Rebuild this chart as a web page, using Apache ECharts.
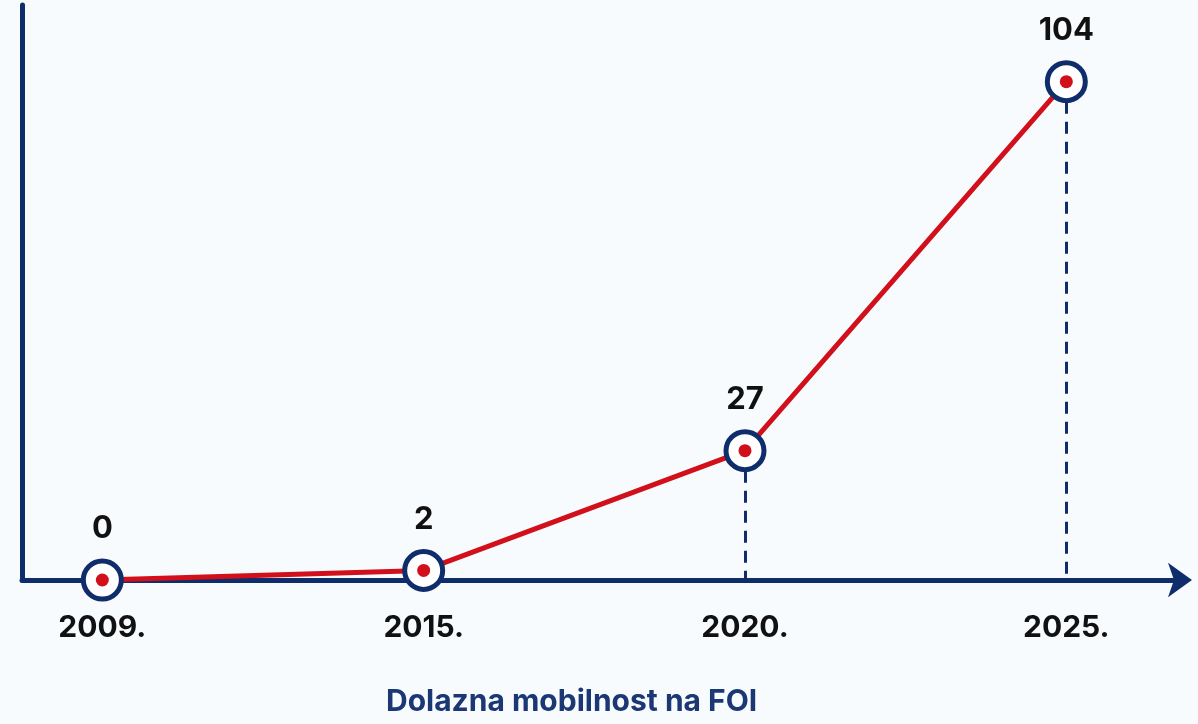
<!DOCTYPE html>
<html lang="hr">
<head>
    <meta charset="UTF-8">
    <title>Dolazna mobilnost na FOI</title>
    <script src="https://cdn.jsdelivr.net/npm/echarts@6/dist/echarts.min.js"></script>
    <style>
        html, body { margin: 0; padding: 0; background: #f7fbfd; }
        #main { width: 1198px; height: 724px; }
    </style>
</head>
<body>
<div id="main"></div>
<script>
    // podaci
    var years = ['2009.', '2015.', '2020.', '2025.'];
    var mobilnost = [0, 2, 27, 104];

    var navy = '#0f2d6b';
    var red = '#d1101c';

    var myChart = echarts.init(document.getElementById('main'));

    // tocke [indeks godine, vrijednost]
    var points = [];
    for (var i = 0; i < years.length; i++) {
        points.push([i, mobilnost[i]]);
    }

    // isprekidane linije od tocke do osi
    var dropLines = [];
    for (var j = 0; j < points.length; j++) {
        if (mobilnost[j] > 0) {
            dropLines.push([{ coord: [j, mobilnost[j]] }, { coord: [j, 0] }]);
        }
    }

    var option = {
        backgroundColor: '#f7fbfd',
        title: {
            text: 'Dolazna mobilnost na FOI',
            left: 381,
            top: 682,
            textStyle: {
                color: '#1b3774',
                fontFamily: 'Inter',
                fontWeight: 'bold',
                fontSize: 30
            }
        },
        grid: {
            left: 22,
            right: 16,
            top: 5,
            bottom: 144
        },
        xAxis: {
            type: 'value',
            min: -0.25,
            max: 3.36,
            splitLine: { show: false },
            axisLine: {
                onZero: false,
                symbol: ['none', 'arrow'],
                symbolSize: [26, 24],
                symbolOffset: [0, 10],
                lineStyle: { color: navy, width: 5 }
            },
            axisTick: { show: false },
            axisLabel: {
                customValues: [0, 1, 2, 3],
                margin: 33,
                color: '#111',
                fontFamily: 'Inter',
                fontWeight: 'bold',
                fontSize: 30,
                formatter: function (v) { return years[Math.round(v)] || ''; }
            }
        },
        yAxis: {
            type: 'value',
            min: 0,
            max: 120,
            splitLine: { show: false },
            axisTick: { show: false },
            axisLabel: { show: false },
            axisLine: {
                show: true,
                onZero: false,
                lineStyle: { color: navy, width: 5 }
            }
        },
        series: [
            {
                type: 'line',
                z: 1,
                data: [],
                markLine: {
                    silent: true,
                    z: 1,
                    symbol: ['none', 'none'],
                    label: { show: false },
                    lineStyle: { color: navy, width: 3, type: [12, 8] },
                    data: dropLines
                }
            },
            {
                type: 'line',
                z: 3,
                data: points,
                symbol: 'circle',
                symbolSize: 38,
                lineStyle: { color: red, width: 5 },
                itemStyle: { color: '#ffffff', borderColor: navy, borderWidth: 5 },
                label: {
                    show: true,
                    position: 'top',
                    distance: 14,
                    color: '#111',
                    fontFamily: 'Inter',
                    fontWeight: 'bold',
                    fontSize: 31,
                    formatter: function (p) { return p.value[1]; }
                }
            },
            {
                type: 'scatter',
                z: 4,
                data: points,
                symbolSize: 13,
                itemStyle: { color: red, opacity: 1 }
            }
        ]
    };

    myChart.setOption(option);
</script>
</body>
</html>
